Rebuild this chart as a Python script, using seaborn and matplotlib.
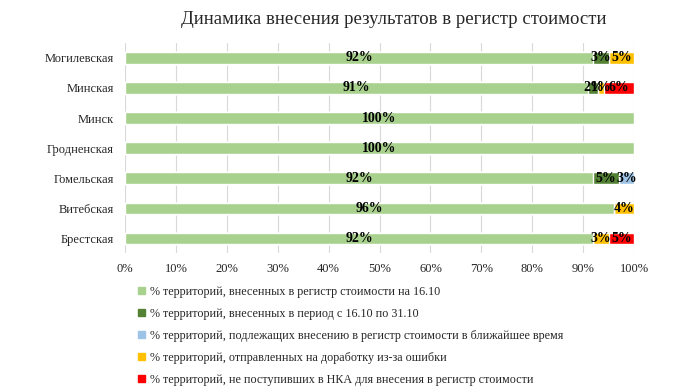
import matplotlib
matplotlib.use("Agg")
import matplotlib.pyplot as plt
import matplotlib.patches as mpatches
import numpy as np
import pandas as pd
import seaborn as sns

regions = ["Могилевская", "Минская", "Минск", "Гродненская",
           "Гомельская", "Витебская", "Брестская"]
entered_1610 = [92, 91, 100, 100, 92, 96, 92]
entered_period = [3, 2, 0, 0, 5, 0, 0]
pending = [0, 0, 0, 0, 3, 0, 0]
returned = [5, 1, 0, 0, 0, 4, 3]
not_received = [0, 6, 0, 0, 0, 0, 5]

series_names = [
    "% территорий, внесенных в регистр стоимости на 16.10",
    "% территорий, внесенных в период с 16.10 по 31.10",
    "% территорий, подлежащих внесению в регистр стоимости в ближайшее время",
    "% территорий, отправленных на доработку из-за ошибки",
    "% территорий, не поступивших в НКА для внесения в регистр стоимости",
]
colors = ["#A9D18E", "#548235", "#9DC3E6", "#FFC000", "#FF0000"]

sns.set_theme(style="white")
plt.rcParams["font.family"] = ["Liberation Serif", "DejaVu Serif"]

df = pd.DataFrame({
    "region": regions,
    "s1": entered_1610,
    "s2": entered_period,
    "s3": pending,
    "s4": returned,
    "s5": not_received,
})
cols = ["s1", "s2", "s3", "s4", "s5"]
cum = df[cols].cumsum(axis=1)

fig = plt.figure(figsize=(6.87, 3.87), dpi=100)
ax = fig.add_axes([0.182, 0.346, 0.741, 0.543])

# stacked bars: draw cumulative totals from the outermost segment inward
for i in range(len(cols) - 1, -1, -1):
    sns.barplot(x=cum[cols[i]] / 100, y=df["region"], orient="h",
                color=colors[i], width=0.37, ax=ax, zorder=2,
                saturation=1)

for r in range(len(regions)):
    start = 0
    for c in cols:
        v = df.loc[r, c]
        if v > 0:
            ax.text((start + v / 2) / 100, r, f"{v}%", ha="center",
                    va="center", fontsize=10, fontweight="bold",
                    color="black", zorder=3)
        start += v

ax.set_xlim(0, 1)
ax.set_xticks(np.arange(0, 1.01, 0.1))
ax.set_xticklabels([f"{int(t)}%" for t in np.arange(0, 101, 10)],
                   fontsize=9)
ax.tick_params(axis="y", labelsize=9, length=0, pad=8)
ax.tick_params(axis="x", length=0, pad=7)
ax.set_xlabel("")
ax.set_ylabel("")
ax.xaxis.grid(True, color="#D9D9D9", linewidth=0.8, zorder=0)
ax.set_axisbelow(True)
for s in ax.spines.values():
    s.set_visible(False)

fig.text(394 / 687, 1 - 20 / 387, "Динамика внесения результатов в регистр стоимости",
         ha="center", va="center", fontsize=13.5)

handles = [mpatches.Patch(color=c, label=n) for c, n in zip(colors, series_names)]
fig.legend(handles=handles, loc="upper left",
           bbox_to_anchor=(138 / 687, 1 - 286 / 387), frameon=False,
           fontsize=8.7, handlelength=0.55, handleheight=0.55,
           handletextpad=0.45, labelspacing=0.83, borderaxespad=0,
           borderpad=0)

fig.savefig("out.png", dpi=100)
